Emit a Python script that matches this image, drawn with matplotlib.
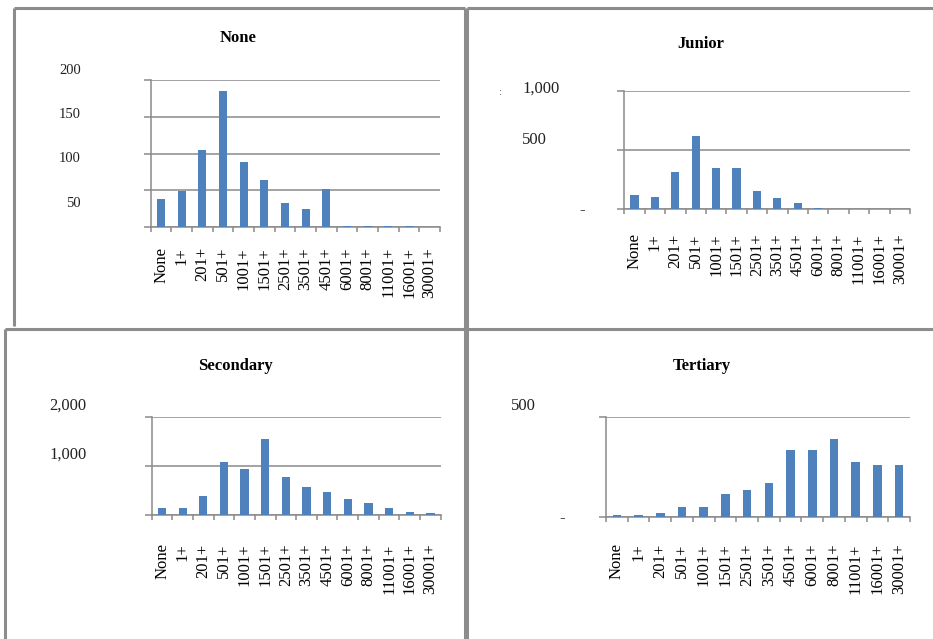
import matplotlib
matplotlib.use("Agg")
import matplotlib.pyplot as plt
from matplotlib.lines import Line2D

# ---- data -------------------------------------------------------------
categories = ["None", "1+", "201+", "501+", "1001+", "1501+", "2501+",
              "3501+", "4501+", "6001+", "8001+", "11001+", "16001+", "30001+"]

none_vals = [38, 49, 105, 185, 89, 64, 33, 25, 52, 2, 2, 2, 2, 0]
junior_vals = [121, 106, 312, 621, 346, 346, 157, 95, 51, 14, 2, 1, 1, 1]
secondary_vals = [142, 142, 385, 1089, 939, 1548, 783, 568, 473, 325, 256, 142, 73, 40]
tertiary_vals = [11, 11, 20, 50, 50, 117, 134, 170, 336, 336, 389, 276, 261, 261]

titles = ["None", "Junior", "Secondary", "Tertiary"]
none_yticks = [0, 50, 100, 150, 200]
junior_yticks = [0, 500, 1000]
secondary_yticks = [0, 1000, 2000]
tertiary_yticks = [0, 500]

none_ylabels = ["200", "150", "100", "50"]
junior_ylabels = ["1,000", "500", "-"]
secondary_ylabels = ["2,000", "1,000"]
tertiary_ylabels = ["500", "-"]

# ---- layout helpers ---------------------------------------------------
W, H = 933, 639
DPI = 100
SERIF = "Liberation Serif"
BAR = "#4F81BD"
GRID = "#8A8A8A"
FRAME = "#8C8C8C"

fig = plt.figure(figsize=(W / DPI, H / DPI), dpi=DPI)
fig.patch.set_facecolor("white")


def fx(x):
    return x / W


def fy(y):
    return 1 - y / H


def frame_line(x0, y0, x1, y1):
    fig.add_artist(Line2D([fx(x0), fx(x1)], [fy(y0), fy(y1)],
                          transform=fig.transFigure, color=FRAME,
                          lw=2.2, solid_capstyle="butt"))


def panel(values, yticks, title, box, title_xy, label_pad_px, ylabels):
    left, right, top, bottom = box
    ax = fig.add_axes([fx(left), fy(bottom), (right - left) / W, (bottom - top) / H])
    x = range(len(categories))
    ax.bar(x, values, width=0.4, color=BAR, zorder=3)
    ax.set_xlim(-0.5, len(categories) - 0.5)
    ax.set_ylim(0, yticks[-1])

    ax.set_yticks(yticks)
    ax.set_yticklabels([])
    ax.yaxis.grid(True, color=GRID, lw=1.1, zorder=0)
    ax.tick_params(axis="y", direction="out", length=5, width=1.1, color=GRID)

    ax.set_xticks(list(x))
    ax.set_xticklabels(categories, rotation=90, fontfamily=SERIF, fontsize=12)
    ax.set_xticks([i - 0.5 for i in range(len(categories) + 1)], minor=True)
    ax.tick_params(axis="x", which="major", length=0, pad=label_pad_px / 1.389)
    ax.tick_params(axis="x", which="minor", direction="out", length=3.5,
                   width=1.1, color=GRID)

    for s in ("top", "right"):
        ax.spines[s].set_visible(False)
    for s in ("left", "bottom"):
        ax.spines[s].set_color(GRID)
        ax.spines[s].set_linewidth(1.1)

    fig.text(fx(title_xy[0]), fy(title_xy[1]), title, ha="center", va="center",
             fontfamily=SERIF, fontsize=12, fontweight="bold")
    for text, tx, ty, ha, size in ylabels:
        fig.text(fx(tx), fy(ty), text, ha=ha, va="center",
                 fontfamily=SERIF, fontsize=size, color="#222222")
    return ax


# ---- four panels ------------------------------------------------------
panel(none_vals, none_yticks, titles[0], (150.7, 440, 80, 227), (238, 38), 20,
      [(none_ylabels[0], 81, 71, "right", 10.5),
       (none_ylabels[1], 81, 115, "right", 10.5),
       (none_ylabels[2], 81, 159, "right", 10.5),
       (none_ylabels[3], 81, 204, "right", 10.5)])

panel(junior_vals, junior_yticks, titles[1], (624.3, 910, 90.7, 209.3), (701, 44), 24,
      [(junior_ylabels[0], 522, 89, "left", 12),
       (junior_ylabels[1], 522, 140, "left", 12),
       (junior_ylabels[2], 582, 210, "center", 12)])
fig.text(fx(501), fy(92), ":", ha="center", va="center", fontsize=7, color="#555555")

panel(secondary_vals, secondary_yticks, titles[2], (151.7, 440.7, 416.7, 515.3), (235, 366), 28,
      [(secondary_ylabels[0], 49, 406, "left", 12),
       (secondary_ylabels[1], 49, 455, "left", 12)])

panel(tertiary_vals, tertiary_yticks, titles[3], (606, 910, 416.7, 517.3), (702, 366), 26,
      [(tertiary_ylabels[0], 511, 406, "left", 12),
       (tertiary_ylabels[1], 562, 518, "center", 12)])

# ---- panel frames -----------------------------------------------------
frame_line(14, 8, 465, 8)
frame_line(14, 8, 14, 326)
frame_line(464.5, 8, 464.5, 639)
frame_line(467, 8, 933, 8)
frame_line(467.5, 8, 467.5, 639)
frame_line(5, 328.5, 933, 328.5)
frame_line(5, 328.5, 5, 639)

fig.savefig("out.png", dpi=DPI, facecolor="white")
